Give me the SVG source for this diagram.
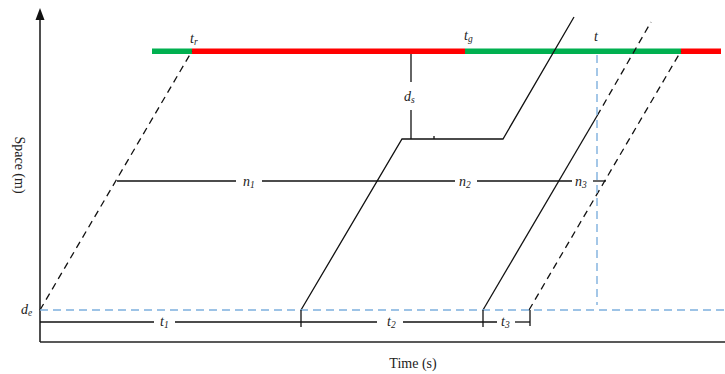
<svg xmlns="http://www.w3.org/2000/svg" width="725" height="374" viewBox="0 0 725 374">
<defs>
<style>
.ax{stroke:#222;stroke-width:1.6;fill:none}
.ln{stroke:#111;stroke-width:1.3;fill:none}
.dl{stroke:#111;stroke-width:1.3;fill:none;stroke-dasharray:7,5}
.bl{stroke:#7EB0DE;stroke-width:1.4;fill:none;stroke-dasharray:8,5}
.lbl{font-family:"Liberation Serif",serif;font-size:14px;fill:#222}
.var{font-family:"Liberation Serif",serif;font-size:14px;font-style:italic;fill:#222}
.sub{font-size:9.5px}
</style>
</defs>
<rect width="725" height="374" fill="#fff"/>
<g id="axes">
<line class="ax" x1="40" y1="18" x2="40" y2="342"/>
<polygon points="40,8 35.5,20 44.5,20" fill="#111"/>
<line class="ax" x1="40" y1="342" x2="725" y2="342"/>
<text class="lbl" x="413" y="368" text-anchor="middle">Time (s)</text>
<text class="lbl" transform="translate(15,165) rotate(90)" text-anchor="middle">Space (m)</text>
</g>
<g id="signal">
<rect x="152" y="48.5" width="40" height="5.5" fill="#00B050"/>
<rect x="192" y="48.5" width="273" height="5.5" fill="#FF0000"/>
<rect x="465" y="48.5" width="216" height="5.5" fill="#00B050"/>
<rect x="681" y="48.5" width="40" height="5.5" fill="#FF0000"/>
</g>
<g id="connectors">
<line class="dl" x1="40" y1="310" x2="192" y2="51"/>
<polyline class="ln" points="301,310 402,139 503,139 574,17"/>
<line class="ln" x1="483" y1="310" x2="597" y2="116"/>
<line class="dl" x1="597" y1="116" x2="651" y2="22"/>
<line class="dl" x1="529" y1="310" x2="681" y2="51"/>
<line class="bl" x1="40" y1="310" x2="725" y2="310"/>
<line class="bl" x1="597" y1="55" x2="597" y2="305"/>
<line class="ln" x1="411" y1="54" x2="411" y2="82"/>
<line class="ln" x1="411" y1="110" x2="411" y2="139"/>
<line class="ln" x1="434" y1="136" x2="434" y2="139"/>
<line class="ln" x1="117" y1="181" x2="236" y2="181"/>
<line class="ln" x1="262" y1="181" x2="455" y2="181"/>
<line class="ln" x1="477" y1="181" x2="572" y2="181"/>
<line class="ln" x1="593" y1="181" x2="606" y2="181"/>
<line class="ln" x1="40" y1="322" x2="154" y2="322"/>
<line class="ln" x1="175" y1="322" x2="377" y2="322"/>
<line class="ln" x1="403" y1="322" x2="497" y2="322"/>
<line class="ln" x1="515" y1="322" x2="530" y2="322"/>
<line class="ln" x1="301" y1="310" x2="301" y2="327"/>
<line class="ln" x1="483" y1="310" x2="483" y2="327"/>
<line class="ln" x1="530" y1="310" x2="530" y2="326"/>
</g>
<g id="labels">
<text class="var" x="190" y="43">t<tspan class="sub" dy="2">r</tspan></text>
<text class="var" x="464" y="40">t<tspan class="sub" dy="2">g</tspan></text>
<text class="var" x="594" y="41">t</text>
<text class="var" x="404" y="101">d<tspan class="sub" dy="2">s</tspan></text>
<text class="var" x="243" y="186">n<tspan class="sub" dy="2">1</tspan></text>
<text class="var" x="459" y="186">n<tspan class="sub" dy="2">2</tspan></text>
<text class="var" x="575" y="186">n<tspan class="sub" dy="2">3</tspan></text>
<text class="var" x="21" y="314">d<tspan class="sub" dy="2">e</tspan></text>
<text class="var" x="160" y="326">t<tspan class="sub" dy="2">1</tspan></text>
<text class="var" x="387" y="326">t<tspan class="sub" dy="2">2</tspan></text>
<text class="var" x="501" y="326">t<tspan class="sub" dy="2">3</tspan></text>
</g>
</svg>
